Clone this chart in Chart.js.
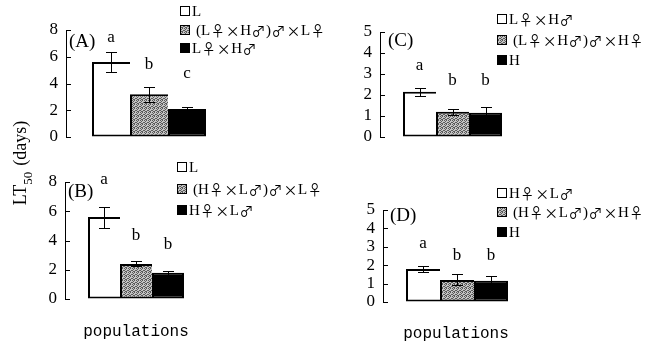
<!DOCTYPE html>
<html>
<head>
<meta charset="utf-8">
<script src="https://cdn.jsdelivr.net/npm/chart.js@4/dist/chart.umd.min.js"></script>
<style>
html, body { margin: 0; padding: 0; background: #fff; }
#lienzo { position: relative; width: 659px; height: 346px; overflow: hidden; background: #fff; }
#lienzo canvas { position: absolute; left: 0; top: 0; }
</style>
</head>
<body>
<div id="lienzo">
	<canvas id="panelA" width="659" height="346"></canvas>
	<canvas id="panelB" width="659" height="346"></canvas>
	<canvas id="panelC" width="659" height="346"></canvas>
	<canvas id="panelD" width="659" height="346"></canvas>
</div>
<script>
// Datos (LT50 en dias, media y error)
const seriesA = ['L', '(L♀×H♂)♂×L♀', 'L♀×H♂'];
const valoresA = [5.6, 3.2, 2.1];
const erroresA = [0.72, 0.55, 0.15];
const letrasA = ['a', 'b', 'c'];

const seriesB = ['L', '(H♀×L♂)♂×L♀', 'H♀×L♂'];
const valoresB = [5.6, 2.4, 1.8];
const erroresB = [0.72, 0.17, 0.14];
const letrasB = ['a', 'b', 'b'];

const seriesC = ['L♀×H♂', '(L♀×H♂)♂×H♀', 'H'];
const valoresC = [2.15, 1.2, 1.15];
const erroresC = [0.2, 0.13, 0.28];
const letrasC = ['a', 'b', 'b'];

const seriesD = ['H♀×L♂', '(H♀×L♂)♂×H♀', 'H'];
const valoresD = [1.8, 1.2, 1.15];
const erroresD = [0.16, 0.3, 0.27];
const letrasD = ['a', 'b', 'b'];

// ejes
const ticksIzq = [0, 2, 4, 6, 8];
const ticksDer = [0, 1, 2, 3, 4, 5];
const tituloY = ['LT', '50', '(days)'];
const tituloX = 'populations';

const SERIF = "'Liberation Serif', serif";
const CJK = "'Noto Sans CJK SC', sans-serif";
const ANCHO = 659, ALTO = 346;

// trama gris del segundo grupo
function crearTrama()
{
	const c = document.createElement('canvas');
	c.width = 4; c.height = 4;
	const g = c.getContext('2d');
	g.fillStyle = '#c4c4c4';
	g.fillRect(0, 0, 4, 4);
	g.fillStyle = '#5a5a5a';
	[[0, 0], [2, 0], [1, 1], [3, 2], [0, 2], [2, 3], [1, 3]].forEach(p => g.fillRect(p[0], p[1], 1, 1));
	return g.createPattern(c, 'repeat');
}
const trama = crearTrama();
const rellenos = ['#ffffff', trama, '#000000'];

// texto con simbolos de ancho completo (♀ ♂ ×)
function texto_mixto(ctx, s, x, y)
{
	for (const ch of s) {
		if ('♀♂×'.includes(ch)) {
			ctx.font = '14px ' + CJK;
			ctx.textAlign = 'center';
			ctx.fillText(ch, x + 7.5, y);
			x += 15;
		} else {
			ctx.font = '15px ' + SERIF;
			ctx.textAlign = 'left';
			ctx.fillText(ch, x, y);
			x += ctx.measureText(ch).width;
		}
	}
}

function crear_panel(id, p)
{
	const extras = {
		id: 'extras_' + id,
		afterDraw(chart) {
			const ctx = chart.ctx;
			const area = chart.chartArea;
			const ys = chart.scales.y;
			ctx.save();
			// marcas hacia dentro
			ctx.strokeStyle = '#000';
			ctx.lineWidth = 1;
			ys.ticks.forEach((t, i) => {
				const y = Math.round(ys.getPixelForTick(i)) + 0.5;
				ctx.beginPath();
				ctx.moveTo(Math.round(area.left), y);
				ctx.lineTo(Math.round(area.left) + 5, y);
				ctx.stroke();
			});
			// barras de error y letras
			p.valores.forEach((v, i) => {
				const bar = chart.getDatasetMeta(i).data[0];
				const x = Math.round(bar.x) + 0.5;
				const yArr = Math.round(ys.getPixelForValue(v + p.errores[i])) + 0.5;
				const yAb = Math.round(ys.getPixelForValue(v - p.errores[i])) + 0.5;
				const media = 5.5;
				ctx.strokeStyle = '#000';
				ctx.beginPath();
				ctx.moveTo(x, yArr); ctx.lineTo(x, yAb);
				ctx.moveTo(x - media, yArr); ctx.lineTo(x + media, yArr);
				ctx.moveTo(x - media, yAb); ctx.lineTo(x + media, yAb);
				ctx.stroke();
				ctx.fillStyle = '#000';
				ctx.font = '17px ' + SERIF;
				ctx.textAlign = 'center';
				ctx.textBaseline = 'alphabetic';
				ctx.fillText(p.letras[i], bar.x, yArr - p.sepLetras[i]);
			});
			// etiqueta del panel
			ctx.font = '19px ' + SERIF;
			ctx.textAlign = 'left';
			ctx.textBaseline = 'alphabetic';
			ctx.fillText(p.nombre, area.left + p.nombrePos[0], area.top + p.nombrePos[1]);
			// leyenda
			ctx.textBaseline = 'middle';
			p.series.forEach((s, i) => {
				const y = p.leyenda.filas[i];
				const x = p.leyenda.x;
				ctx.fillStyle = rellenos[i];
				ctx.fillRect(x, y - 5, 10, 10);
				ctx.strokeStyle = '#000';
				ctx.strokeRect(x + 0.5, y - 4.5, 9, 9);
				ctx.fillStyle = '#000';
				texto_mixto(ctx, s, x + 12 + (i === 1 ? 4 : 0), y + 1);
			});
			// titulo eje x
			if (p.conTituloX) {
				ctx.font = "16px 'Liberation Mono', monospace";
				ctx.textAlign = 'center';
				ctx.textBaseline = 'alphabetic';
				ctx.fillText(tituloX, p.tituloX[0], p.tituloX[1]);
			}
			// titulo eje y
			if (p.conTituloY) {
				ctx.translate(20, 163);
				ctx.rotate(-Math.PI / 2);
				ctx.font = '18px ' + SERIF;
				const w1 = ctx.measureText(tituloY[0]).width;
				const w3 = ctx.measureText(tituloY[2]).width;
				ctx.font = '13px ' + SERIF;
				const w2 = ctx.measureText(tituloY[1]).width;
				const hueco = 6;
				let x0 = -(w1 + w2 + hueco + w3) / 2;
				ctx.textAlign = 'left';
				ctx.textBaseline = 'alphabetic';
				ctx.font = '18px ' + SERIF;
				ctx.fillText(tituloY[0], x0, 6);
				ctx.font = '13px ' + SERIF;
				ctx.fillText(tituloY[1], x0 + w1, 12);
				ctx.font = '18px ' + SERIF;
				ctx.fillText(tituloY[2], x0 + w1 + w2 + hueco, 6);
			}
			ctx.restore();
		}
	};

	const anchoEje = 30;
	const cp = p.grupo / (p.area.right - p.area.left);
	new Chart(document.getElementById(id), {
		type: 'bar',
		data: {
			labels: [''],
			datasets: p.series.map((s, i) => ({
				label: s,
				data: [p.valores[i]],
				backgroundColor: rellenos[i],
				borderColor: '#000000',
				borderWidth: i < 2 ? { left: 2, top: 2, bottom: 2, right: 0 } : 2,
				borderSkipped: false,
				categoryPercentage: cp,
				barPercentage: 1,
				clip: false
			}))
		},
		options: {
			responsive: false,
			animation: false,
			devicePixelRatio: 1,
			layout: {
				padding: {
					left: p.area.left - anchoEje,
					top: p.area.top,
					right: ANCHO - p.area.right,
					bottom: ALTO - p.area.bottom
				}
			},
			plugins: {
				legend: { display: false },
				tooltip: { enabled: false }
			},
			scales: {
				x: { display: false },
				y: {
					min: 0,
					max: p.ticks[p.ticks.length - 1],
					afterFit: s => { s.width = anchoEje; },
					afterBuildTicks: s => { s.ticks = p.ticks.map(v => ({ value: v })); },
					ticks: {
						color: '#000',
						padding: 8,
						autoSkip: false,
						font: { family: 'Liberation Serif', size: 17 }
					},
					grid: { drawOnChartArea: false, drawTicks: false },
					border: { color: '#000', width: 1 }
				}
			}
		},
		plugins: [extras]
	});
}

crear_panel('panelA', {
	series: seriesA, valores: valoresA, errores: erroresA, letras: letrasA,
	ticks: ticksIzq, nombre: '(A)',
	area: { left: 66, top: 30, right: 232, bottom: 137 }, grupo: 114,
	sepLetras: [11, 19, 30], nombrePos: [3, 17],
	leyenda: { x: 180, filas: [11, 30, 48] },
	conTituloY: true
});
crear_panel('panelB', {
	series: seriesB, valores: valoresB, errores: erroresB, letras: letrasB,
	ticks: ticksIzq, nombre: '(B)',
	area: { left: 65, top: 182, right: 207, bottom: 299 }, grupo: 96,
	sepLetras: [24, 22, 23], nombrePos: [3, 15],
	leyenda: { x: 177, filas: [167, 189, 210] },
	conTituloX: true, tituloX: [136, 336]
});
crear_panel('panelC', {
	series: seriesC, valores: valoresC, errores: erroresC, letras: letrasC,
	ticks: ticksDer, nombre: '(C)',
	area: { left: 380, top: 32, right: 525, bottom: 137 }, grupo: 99,
	sepLetras: [19, 25, 23], nombrePos: [8, 14],
	leyenda: { x: 497, filas: [19, 40, 60] }
});
crear_panel('panelD', {
	series: seriesD, valores: valoresD, errores: erroresD, letras: letrasD,
	ticks: ticksDer, nombre: '(D)',
	area: { left: 383, top: 210, right: 531, bottom: 302 }, grupo: 102,
	sepLetras: [19, 15, 17], nombrePos: [7, 11],
	leyenda: { x: 497, filas: [193, 212, 232] },
	conTituloX: true, tituloX: [456, 338]
});
</script>
</body>
</html>
